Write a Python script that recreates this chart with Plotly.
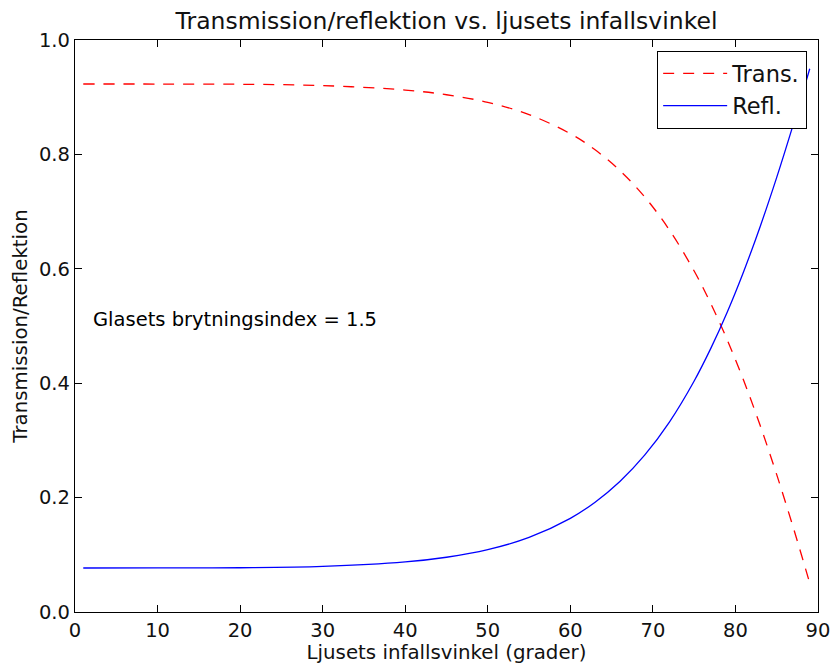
import plotly.graph_objects as go

# incidence angle (degrees) and values
angle = [1, 10, 20, 30, 40, 45, 50, 55, 60, 63, 66, 69, 72, 75, 77, 79, 81, 83, 85, 87, 88, 89]
refl = [0.0769, 0.0770, 0.0774, 0.0797, 0.0875, 0.0957, 0.1090, 0.1304, 0.1638, 0.1920,
        0.2282, 0.2742, 0.3321, 0.4039, 0.4604, 0.5241, 0.5954, 0.6741, 0.7599, 0.8521,
        0.9003, 0.9497]
trans = [0.9231, 0.9230, 0.9226, 0.9203, 0.9125, 0.9043, 0.8910, 0.8696, 0.8362, 0.8080,
         0.7718, 0.7258, 0.6679, 0.5961, 0.5396, 0.4759, 0.4046, 0.3259, 0.2401, 0.1479,
         0.0997, 0.0503]

FONT = "DejaVu Sans"

fig = go.Figure()

fig.add_trace(go.Scatter(
    x=angle, y=trans, mode="lines", name="Trans.",
    line=dict(color="#ff0000", width=1.3, dash="11px,9px", shape="spline"),
))
fig.add_trace(go.Scatter(
    x=angle, y=refl, mode="lines", name="Refl.",
    line=dict(color="#0000ff", width=1.3, shape="spline"),
))

fig.add_annotation(x=1.9, y=0.511, xref="x", yref="y", xanchor="left",
                   text="Glasets brytningsindex = 1.5", showarrow=False,
                   font=dict(family=FONT, size=19.5, color="black"))

axis_style = dict(
    showgrid=False, zeroline=False, showline=True, linecolor="black", linewidth=1.3,
    mirror="ticks", ticks="inside", ticklen=7, tickcolor="black", automargin=False,
    ticklabeloverflow="allow",
    tickfont=dict(family=FONT, size=19.5, color="#111111"),
)

fig.update_layout(
    width=830, height=664,
    margin=dict(l=75, r=12, t=40, b=52),
    paper_bgcolor="white", plot_bgcolor="white",
    title=dict(text="Transmission/reflektion vs. ljusets infallsvinkel",
               x=0.5, xanchor="center", xref="paper",
               y=0.968, yanchor="middle", yref="container",
               font=dict(family=FONT, size=23.5, color="#111111")),
    xaxis=dict(range=[0, 90], dtick=10, tickformat="d",
               title=dict(text="Ljusets infallsvinkel (grader)", standoff=2,
                          font=dict(family=FONT, size=19.8, color="#111111")),
               **axis_style),
    yaxis=dict(range=[0, 1], dtick=0.2, tickformat=".1f",
               title=dict(text="Transmission/Reflektion", standoff=6,
                          font=dict(family=FONT, size=19.8, color="#111111")),
               **axis_style),
    legend=dict(x=0.985, y=0.981, xanchor="right", yanchor="top",
                bgcolor="white", bordercolor="black", borderwidth=1.3,
                itemwidth=64,
                font=dict(family=FONT, size=22.5, color="#111111")),
    showlegend=True,
)

# the page body has an 8px default margin; drop it so the figure sits at (0, 0)
fig.write_html("out.html", config={"displayModeBar": False},
               post_script="document.body.style.margin='0';")
